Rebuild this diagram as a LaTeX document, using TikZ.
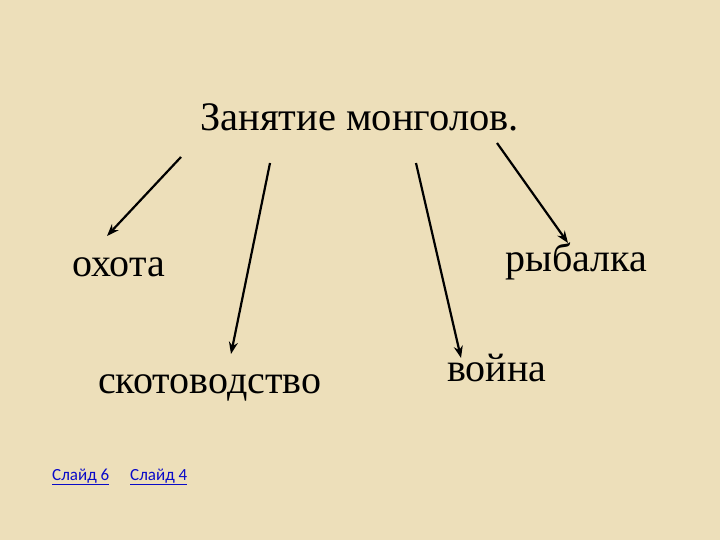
\documentclass[tikz,border=0pt]{standalone}
\usepackage{fontspec}
\setmainfont{Liberation Serif}
\newfontfamily\linkfont{Carlito}
\usepackage{tikz}
\usetikzlibrary{arrows.meta}

\definecolor{parchment}{RGB}{237,223,186}
\definecolor{linkblue}{RGB}{10,10,200}

\begin{document}
\begin{tikzpicture}[
                x=1pt, y=-1pt,
                word/.style = {
                    anchor = base west,
                    inner sep = 0pt,
                    font = \fontsize{#1}{#1}\selectfont
                },
                word/.default = 40,
                link/.style = {
                    anchor = base west,
                    inner sep = 0pt,
                    text = linkblue,
                    font = \linkfont\fontsize{17}{17}\selectfont
                },
                pointer/.style = {
                    line width = 2.2pt,
                    -{Stealth[length=12pt, width=9pt]}
                }
            ]
            \fill[parchment] (0,0) rectangle (720,540);
            \useasboundingbox (0,0) rectangle (720,540);
            %
            \node[word=40.5] (title) at (200,131) {Занятие монголов.};
            %
            \node[word] (hunt) at (72,276) {охота};
            \node[word] (fish) at (505,271) {рыбалка};
            \node[word] (herd) at (98,393) {скотоводство};
            \node[word] (war) at (447,381) {война};
            %
            \coordinate (s1) at (181,157);
            \coordinate (s2) at (270,163);
            \coordinate (s3) at (416,163);
            \coordinate (s4) at (497,143);
            %
            \coordinate (e1) at (107,236);
            \coordinate (e2) at (231,354);
            \coordinate (e3) at (461,358);
            \coordinate (e4) at (568,243);
            %
            \draw[pointer] (s1) -- (e1);
            \draw[pointer] (s2) -- (e2);
            \draw[pointer] (s3) -- (e3);
            \draw[pointer] (s4) -- (e4);
            %
            \node[link] (slide6) at (52,480) {\underline{Слайд 6}};
            \node[link] (slide4) at (130,480) {\underline{Слайд 4}};
            %
        \end{tikzpicture}
\end{document}
